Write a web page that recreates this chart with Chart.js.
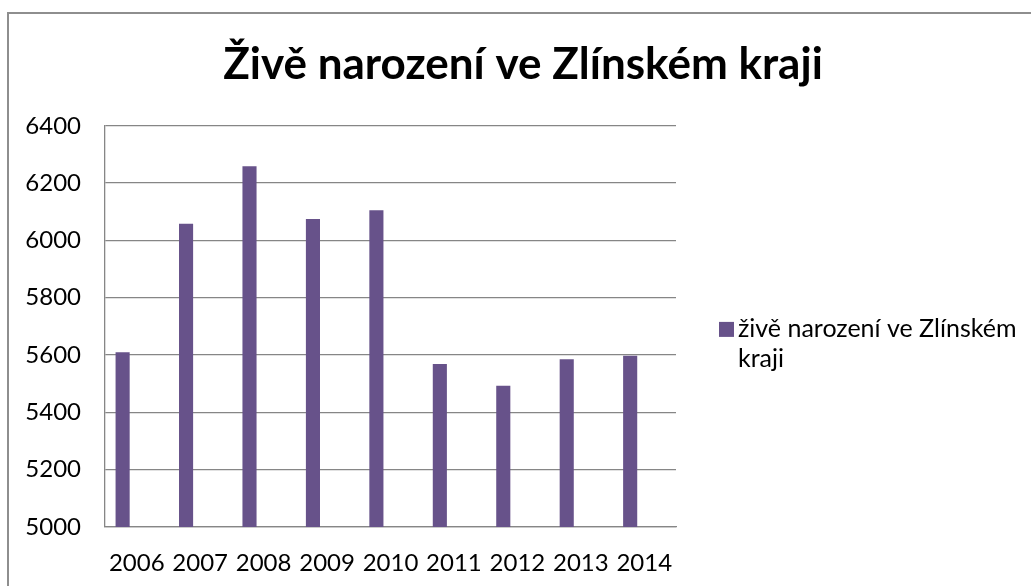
<!DOCTYPE html>
<html lang="cs">
<head>
<meta charset="utf-8">
<title>Živě narození ve Zlínském kraji</title>
<script src="https://cdn.jsdelivr.net/npm/chart.js@4/dist/chart.umd.min.js"></script>
<style>
  html, body { margin: 0; padding: 0; background: #fff; overflow: hidden; }
  #frame { position: absolute; left: 7px; top: 12px; width: 1100px; height: 700px; border: 2px solid #8e8e8e; }
  #wrap { position: absolute; left: 0; top: 0; width: 1031px; height: 586px; }
</style>
</head>
<body>
<div id="frame"></div>
<div id="wrap"><canvas id="chart"></canvas></div>
<script>
// data
const years = ['2006', '2007', '2008', '2009', '2010', '2011', '2012', '2013', '2014'];
const births = [5610, 6058, 6259, 6075, 6105, 5569, 5493, 5585, 5598];
const seriesLabel = 'živě narození ve Zlínském kraji';
const chartTitle = 'Živě narození ve Zlínském kraji';
const yTicks = [5000, 5200, 5400, 5600, 5800, 6000, 6200, 6400];

const barColor = '#67528a';
const gridColor = '#868686';
const fontFamily = 'Lato, "Open Sans", sans-serif';

// wrap legend text into lines no wider than maxWidth
function wrapText(ctx, text, maxWidth) {
    const words = text.split(' ');
    const lines = [];
    let line = '';
    words.forEach(word => {
        const test = line ? line + ' ' + word : word;
        if (line && ctx.measureText(test).width > maxWidth) {
            lines.push(line);
            line = word;
        } else {
            line = test;
        }
    });
    if (line) lines.push(line);
    return lines;
}

const sideLegend = {
    id: 'sideLegend',
    afterDraw(chart) {
        const { ctx, chartArea } = chart;
        const ds = chart.data.datasets[0];
        ctx.save();
        ctx.font = '25px ' + fontFamily;
        ctx.textBaseline = 'middle';
        ctx.textAlign = 'left';
        const lines = wrapText(ctx, ds.label, 292);
        const boxX = chartArea.right + 43;
        const y1 = (chartArea.top + chartArea.bottom) / 2 + 3;
        ctx.fillStyle = ds.backgroundColor;
        ctx.fillRect(boxX, y1 - 7.5, 15, 15);
        ctx.fillStyle = '#000';
        lines.forEach((l, i) => ctx.fillText(l, boxX + 19, y1 + i * 30));
        ctx.restore();
    }
};

new Chart(document.getElementById('chart'), {
    type: 'bar',
    data: {
        labels: years,
        datasets: [
            { label: seriesLabel, data: births, backgroundColor: barColor },
            // two empty series, as in the source sheet, which keep the bar slot layout
            { label: 'Řada 2', data: [], backgroundColor: barColor },
            { label: 'Řada 3', data: [], backgroundColor: barColor }
        ]
    },
    options: {
        responsive: true,
        maintainAspectRatio: false,
        animation: false,
        datasets: {
            bar: { categoryPercentage: 0.667, barPercentage: 1.0 }
        },
        layout: { padding: { left: 15, right: 0, top: 0, bottom: 0 } },
        plugins: {
            legend: { display: false },
            tooltip: { enabled: false },
            title: {
                display: true,
                text: chartTitle,
                color: '#000',
                font: { family: fontFamily, size: 44, weight: 'bold', lineHeight: 1.2 },
                padding: { top: 38, bottom: 35 }
            }
        },
        scales: {
            x: {
                grid: { display: false },
                border: { display: true, color: gridColor, width: 1.3 },
                ticks: { color: '#000', font: { family: fontFamily, size: 24 }, padding: 14, maxRotation: 0, autoSkip: false },
                afterFit(scale) { scale.height = 59; }
            },
            y: {
                min: yTicks[0],
                max: yTicks[yTicks.length - 1],
                grid: { color: gridColor, lineWidth: 1.3, drawTicks: false },
                border: { display: true, color: gridColor, width: 1.3 },
                ticks: {
                    stepSize: yTicks[1] - yTicks[0],
                    color: '#000',
                    font: { family: fontFamily, size: 24 },
                    padding: 24,
                    callback: value => String(value)
                },
                afterFit(scale) { scale.width = 90; }
            },
            side: {
                type: 'linear',
                position: 'right',
                grid: { display: false },
                border: { display: false },
                ticks: { display: false },
                afterFit(scale) { scale.width = 355; }
            }
        }
    },
    plugins: [sideLegend]
});
</script>
</body>
</html>
